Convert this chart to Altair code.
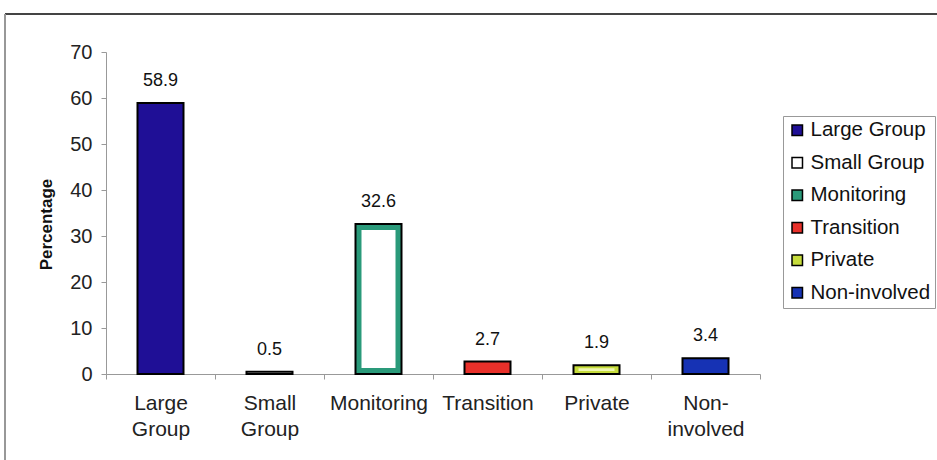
import json
import altair as alt
import pandas as pd

# Share of time spent in each activity format
categories = ["Large Group", "Small Group", "Monitoring", "Transition", "Private", "Non-involved"]
percentages = [58.9, 0.5, 32.6, 2.7, 1.9, 3.4]
tick_lines = {
    "Large Group": ["Large", "Group"],
    "Small Group": ["Small", "Group"],
    "Monitoring": ["Monitoring"],
    "Transition": ["Transition"],
    "Private": ["Private"],
    "Non-involved": ["Non-", "involved"],
}
fill_colors = ["#1f0f96", "#ffffff", "#2a9a7a", "#e8302a", "#c6dc3c", "#1632b4"]
y_ticks = [0, 10, 20, 30, 40, 50, 60, 70]

df = pd.DataFrame({"category": categories, "pct": percentages})
df["label"] = df["pct"].map(lambda v: f"{v:.1f}")

FONT = "Liberation Sans"
W, H = 654, 322
PAD_L, PAD_T = 106, 52

label_expr = " : ".join(
    f"datum.label == '{k}' ? {json.dumps(v)}" for k, v in tick_lines.items()
) + " : datum.label"

x = alt.X(
    "category:N",
    sort=categories,
    scale=alt.Scale(paddingInner=0.0, paddingOuter=0.0),
    axis=alt.Axis(
        title=None,
        labelAngle=0,
        labelExpr=label_expr,
        labelFont=FONT,
        labelFontSize=21,
        labelColor="#222",
        labelPadding=13,
        labelLineHeight=26,
        tickBand="extent",
        tickSize=5,
        tickColor="#999",
        domainColor="#999",
        labelBaseline="top",
    ),
)
y = alt.Y(
    "pct:Q",
    scale=alt.Scale(domain=[0, 70], nice=False),
    axis=alt.Axis(
        values=y_ticks,
        title="Percentage",
        titleFont=FONT,
        titleFontSize=17,
        titleFontWeight="bold",
        titleColor="#111",
        titlePadding=14,
        titleY=172,
        labelFont=FONT,
        labelFontSize=20,
        labelColor="#222",
        labelPadding=9,
        tickSize=5,
        tickColor="#999",
        domainColor="#999",
        grid=False,
    ),
)

fill = alt.Fill(
    "category:N",
    sort=categories,
    scale=alt.Scale(domain=categories, range=fill_colors),
    legend=alt.Legend(
        title=None,
        orient="none",
        legendX=677,
        legendY=64,
        symbolType="square",
        symbolSize=110,
        symbolStrokeColor="#000",
        symbolStrokeWidth=1.5,
        labelFont=FONT,
        labelFontSize=20.5,
        labelColor="#111",
        labelLimit=300,
        labelOffset=3,
        rowPadding=11.5,
        padding=4,
        strokeColor="#999",
        fillColor="#ffffff",
    ),
)

bars = alt.Chart(df).mark_bar(size=46, stroke="#000", strokeWidth=2).encode(x=x, y=y, fill=fill)

# Hollow-looking interiors for the Monitoring and Private bars
mon_inner = (
    alt.Chart(df)
    .transform_filter(alt.datum.category == "Monitoring")
    .mark_bar(size=34, color="#ffffff", yOffset=6, y2Offset=-6)
    .encode(x=x, y="pct:Q", y2=alt.datum(0))
)
priv_inner = (
    alt.Chart(df)
    .transform_filter(alt.datum.category == "Private")
    .mark_bar(size=36, color="#eef6b0", yOffset=3, y2Offset=-3)
    .encode(x=x, y="pct:Q", y2=alt.datum(0))
)

labels = alt.Chart(df).mark_text(
    font=FONT, fontSize=18, color="#111", baseline="alphabetic", dy=-17
).encode(x=x, y="pct:Q", text="label:N")

# Outer frame lines of the chart area
frame_top = alt.Chart(df).mark_rule(color="#444", strokeWidth=2).encode(
    x=alt.value(5 - PAD_L), x2=alt.value(937 - PAD_L), y=alt.value(14 - PAD_T)
)
frame_left = alt.Chart(df).mark_rule(color="#999", strokeWidth=1.5).encode(
    x=alt.value(5 - PAD_L), y=alt.value(14 - PAD_T), y2=alt.value(460 - PAD_T)
)

chart = (
    alt.layer(frame_top, frame_left, bars, mon_inner, priv_inner, labels)
    .properties(
        width=W,
        height=H,
        autosize=alt.AutoSizeParams(type="none"),
        padding={"left": PAD_L, "top": PAD_T, "right": 937 - PAD_L - W, "bottom": 460 - PAD_T - H},
        background="#ffffff",
    )
    .configure_view(stroke=None)
)

chart.save("out.html", embed_options={"renderer": "svg", "actions": False})
